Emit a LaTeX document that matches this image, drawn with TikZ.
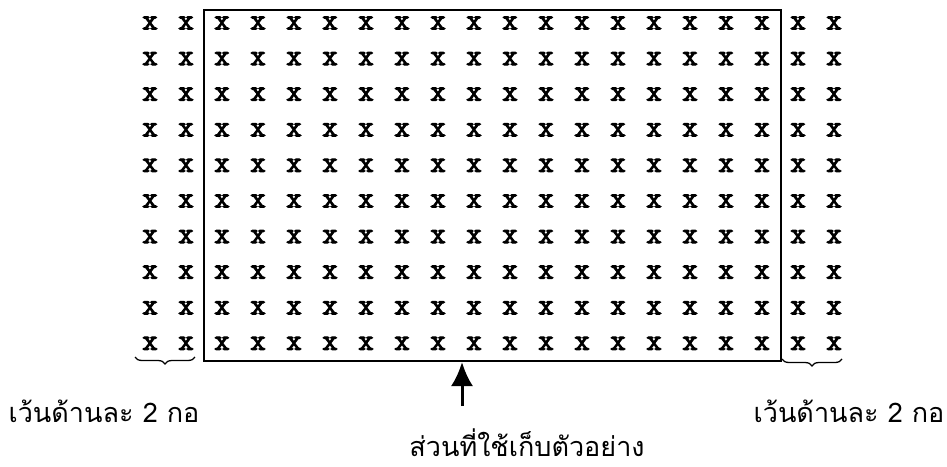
\documentclass[tikz,border=0pt]{standalone}
\usepackage{fontspec}
\newfontfamily\thaifont[Script=Thai]{Loma}
\newfontfamily\xfont[FakeBold=3.5]{Latin Modern Mono}
\usetikzlibrary{decorations.pathreplacing,arrows.meta}
\tikzset{
  xmark/.style={inner sep=0pt, font=\xfont\fontsize{30}{30}\selectfont},
  framebox/.style={draw, line width=2.4pt, inner sep=0pt},
  bracemark/.style={decorate, decoration={brace, mirror, amplitude=7pt}, line width=1.3pt},
  lbl/.style={inner sep=0pt, anchor=base, font=\thaifont\fontsize{27}{27}\selectfont},
  uparrow/.style={line width=3pt, -{Latex[length=24pt,width=22pt]}}
}
\begin{document}
\begin{tikzpicture}[x=1pt,y=-1pt]
\useasboundingbox (0,0) rectangle (947,466);
\foreach \c in {0,...,19}{
  \foreach \r in {0,...,9}{
    \node[xmark] (m-\c-\r) at ({150+36*\c},{23+35.6*\r}) {x};
  }
}
\node[framebox, minimum width=577pt, minimum height=351pt, anchor=north west] (plot) at (203,9) {};
\coordinate (lb1) at (135,357);
\coordinate (lb2) at (195,357);
\coordinate (rb1) at (782,359);
\coordinate (rb2) at (842,359);
\draw[bracemark] (lb1) -- (lb2);
\draw[bracemark] (rb1) -- (rb2);
\coordinate (abase) at (462,406);
\coordinate (atip) at (462,362);
\draw[uparrow] (abase) -- (atip);
\node[lbl] (ltext) at (104,422) {เว้นด้านละ 2 กอ};
\node[lbl] (rtext) at (849,422) {เว้นด้านละ 2 กอ};
\node[lbl] (btext) at (527,456) {ส่วนที่ใช้เก็บตัวอย่าง};
\end{tikzpicture}
\end{document}
